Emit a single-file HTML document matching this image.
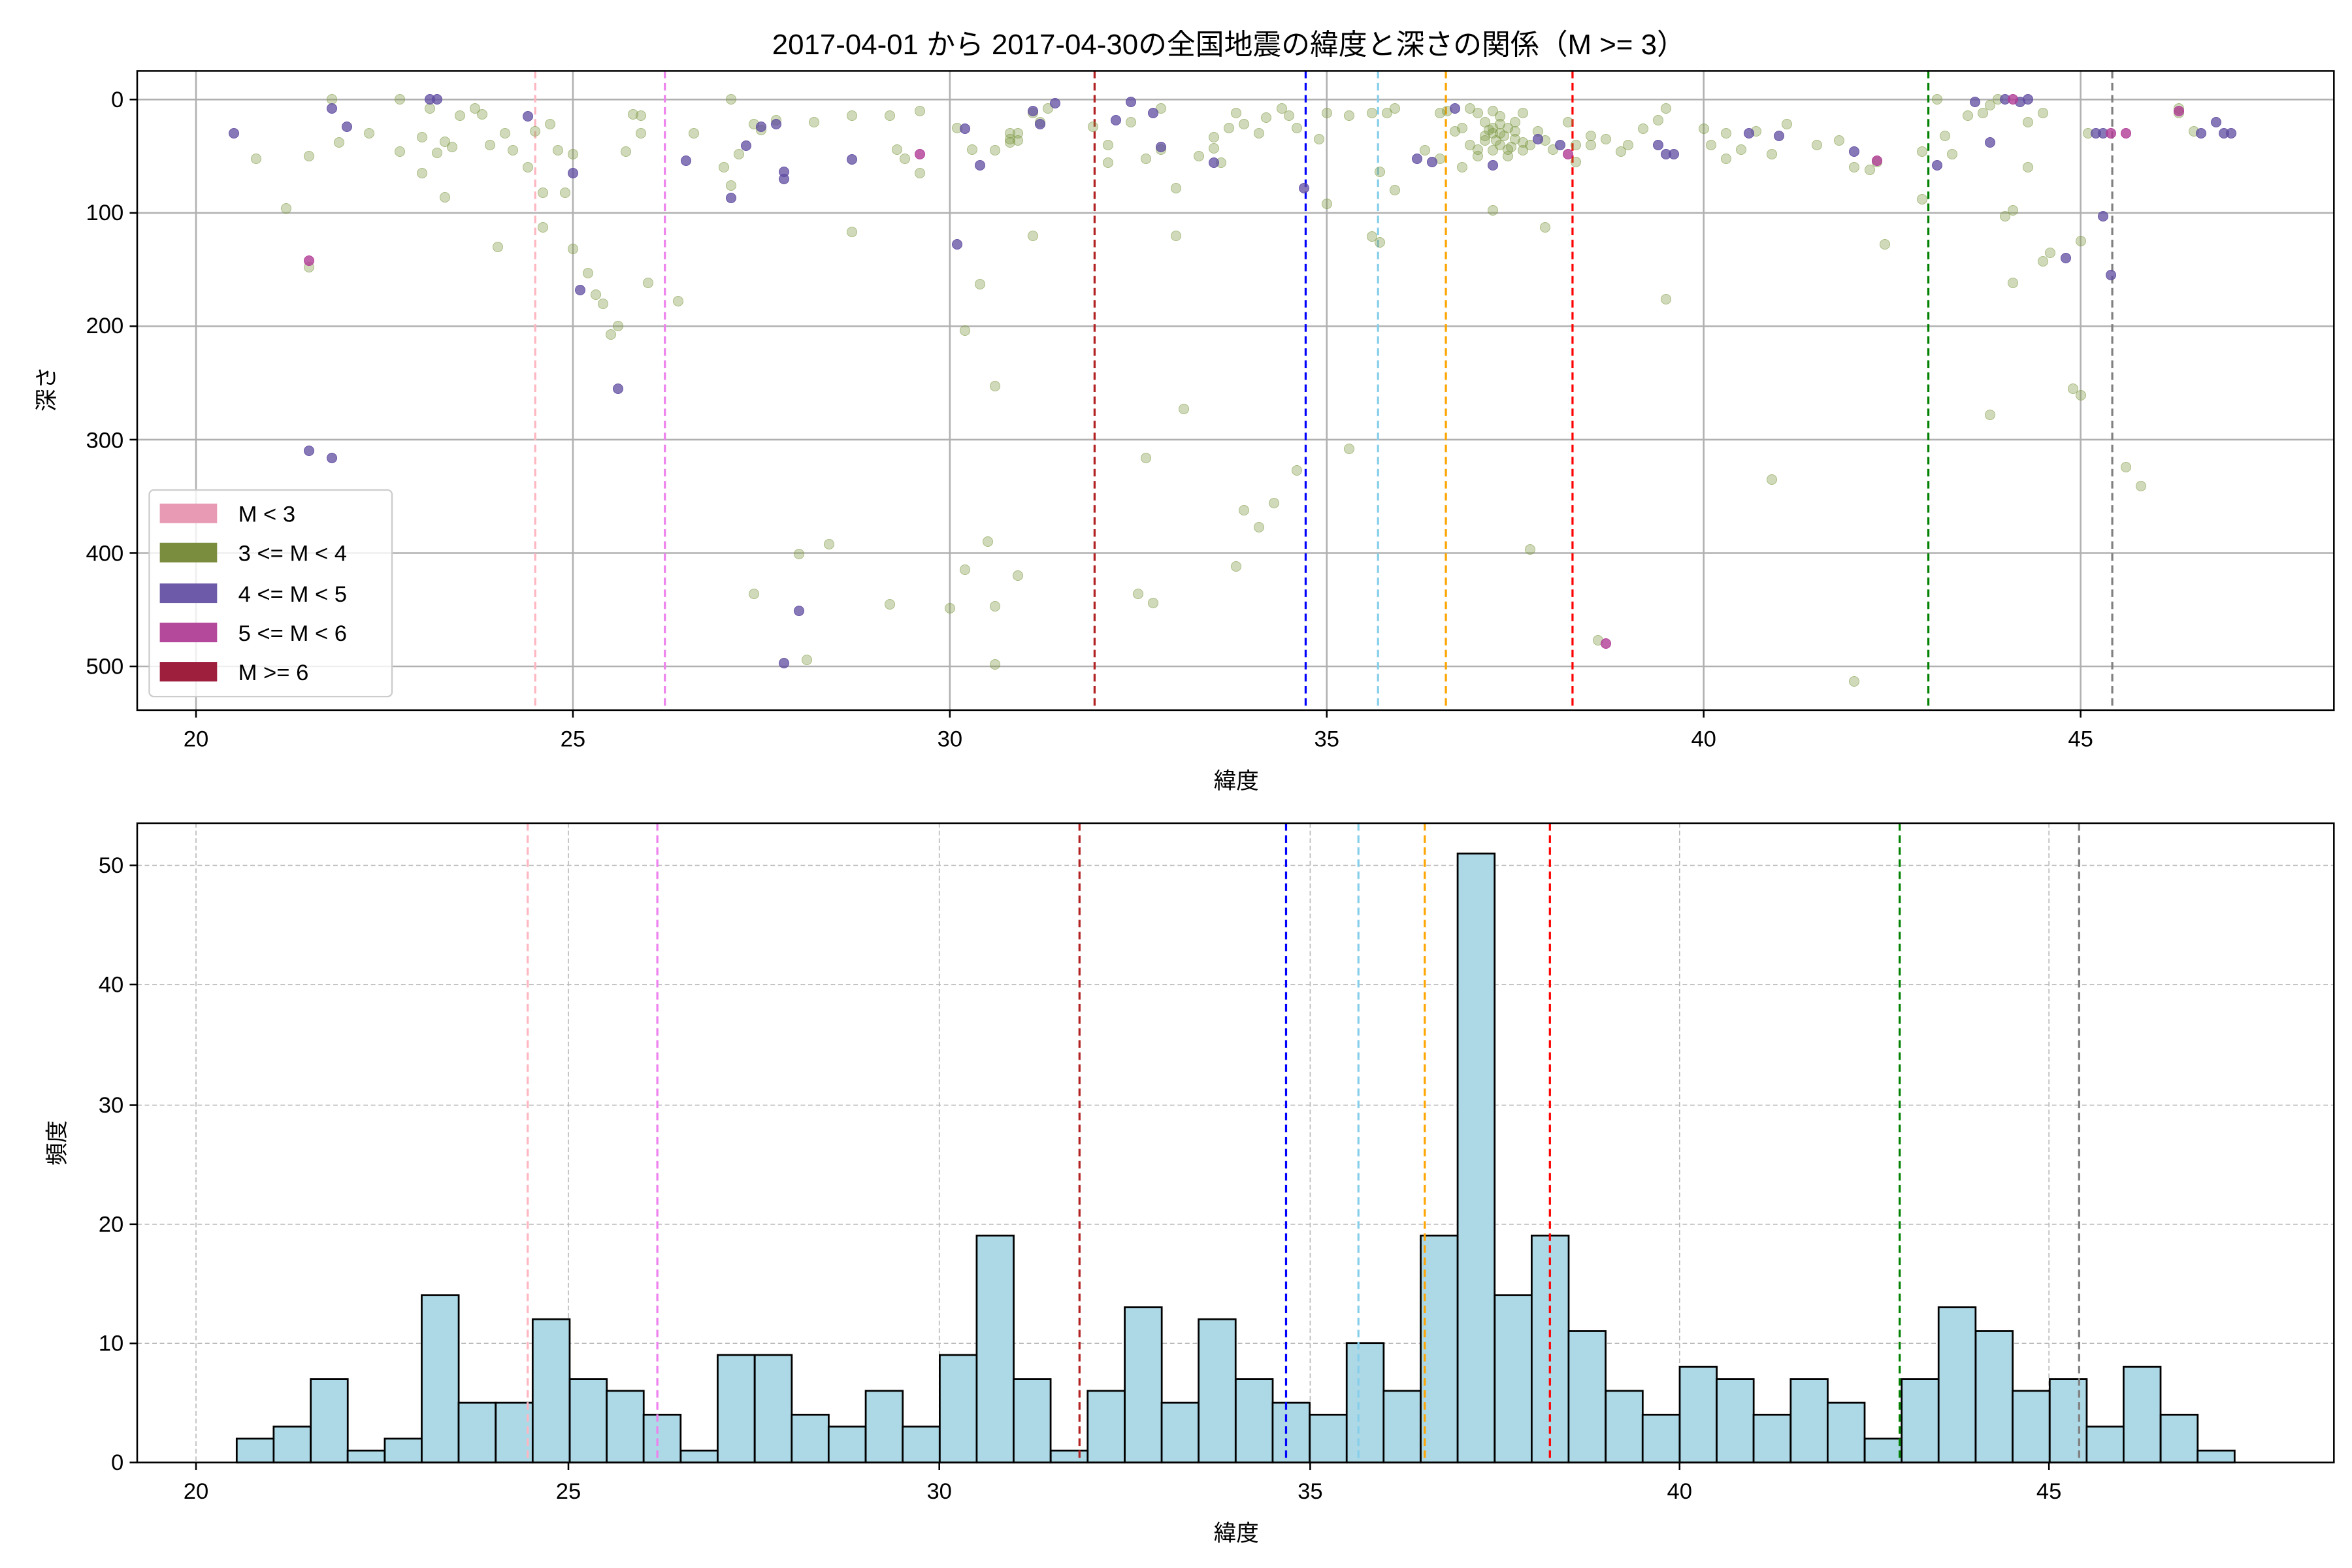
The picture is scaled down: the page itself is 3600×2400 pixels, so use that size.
<!DOCTYPE html>
<html><head><meta charset="utf-8"><style>
html,body{margin:0;padding:0;background:#fff}
#w{position:relative;width:3600px;height:2400px;overflow:hidden}
svg{display:block;position:absolute;left:0;top:0}
text{font-family:"Liberation Sans","Noto Sans CJK JP",sans-serif;fill:#000}
#d{position:absolute;left:0;top:0;width:3600px;height:2400px}
#d i{position:absolute;display:block;width:14px;height:14px;border-radius:50%;margin:-8px 0 0 -8px;left:calc(300px + var(--x)*115.385px);top:calc(152.3px + var(--y)*1.7354px)}
.o i{background:rgba(120,150,60,0.35);border:1.5px solid rgba(120,150,60,0.45)}
.p i{background:rgba(95,75,160,0.75);border:1.5px solid rgba(95,75,160,0.8)}
.m i{background:rgba(176,60,150,0.8);border:1.5px solid rgba(176,60,150,0.85)}
</style></head><body><div id="w">
<svg width="3600" height="2400" viewBox="0 0 1560 1040" xmlns="http://www.w3.org/2000/svg">
<rect width="1560" height="1040" fill="#fff"/>
<text x="815" y="36" font-size="19" text-anchor="middle">2017-04-01 から 2017-04-30の全国地震の緯度と深さの関係（M &gt;= 3）</text>
<g stroke="#b0b0b0" stroke-width="1.1">
<line x1="130" y1="47" x2="130" y2="471"/><line x1="380" y1="47" x2="380" y2="471"/><line x1="630" y1="47" x2="630" y2="471"/><line x1="880" y1="47" x2="880" y2="471"/><line x1="1130" y1="47" x2="1130" y2="471"/><line x1="1380" y1="47" x2="1380" y2="471"/>
<line x1="91" y1="66" x2="1548" y2="66"/><line x1="91" y1="141.2" x2="1548" y2="141.2"/><line x1="91" y1="216.4" x2="1548" y2="216.4"/><line x1="91" y1="291.6" x2="1548" y2="291.6"/><line x1="91" y1="366.8" x2="1548" y2="366.8"/><line x1="91" y1="442" x2="1548" y2="442"/>
</g>
<g stroke-width="1.4" stroke-dasharray="5,3" fill="none">
<line x1="355" y1="47" x2="355" y2="471" stroke="#ffb6c1"/>
<line x1="441" y1="47" x2="441" y2="471" stroke="#ee82ee"/>
<line x1="726" y1="47" x2="726" y2="471" stroke="#b22222"/>
<line x1="866" y1="47" x2="866" y2="471" stroke="#0000ff"/>
<line x1="914" y1="47" x2="914" y2="471" stroke="#87ceeb"/>
<line x1="959" y1="47" x2="959" y2="471" stroke="#ffa500"/>
<line x1="1043" y1="47" x2="1043" y2="471" stroke="#ff0000"/>
<line x1="1279" y1="47" x2="1279" y2="471" stroke="#008000"/>
<line x1="1401" y1="47" x2="1401" y2="471" stroke="#808080"/>
</g>
<g stroke="#b8b8b8" stroke-width="0.7" stroke-dasharray="3,2">
<line x1="130" y1="546" x2="130" y2="970"/><line x1="377" y1="546" x2="377" y2="970"/><line x1="623" y1="546" x2="623" y2="970"/><line x1="869" y1="546" x2="869" y2="970"/><line x1="1114" y1="546" x2="1114" y2="970"/><line x1="1359" y1="546" x2="1359" y2="970"/>
<line x1="91" y1="891" x2="1548" y2="891"/><line x1="91" y1="812" x2="1548" y2="812"/><line x1="91" y1="733" x2="1548" y2="733"/><line x1="91" y1="653" x2="1548" y2="653"/><line x1="91" y1="574" x2="1548" y2="574"/>
</g>
<g fill="#add8e6" stroke="#000" stroke-width="1.2">
<rect x="157" y="954.2" width="24.54" height="15.8"/>
<rect x="181.5" y="946.2" width="24.54" height="23.8"/>
<rect x="206.1" y="914.6" width="24.54" height="55.4"/>
<rect x="230.6" y="962.1" width="24.54" height="7.9"/>
<rect x="255.2" y="954.2" width="24.54" height="15.8"/>
<rect x="279.7" y="859.1" width="24.54" height="110.9"/>
<rect x="304.2" y="930.4" width="24.54" height="39.6"/>
<rect x="328.8" y="930.4" width="24.54" height="39.6"/>
<rect x="353.3" y="875" width="24.54" height="95"/>
<rect x="377.9" y="914.6" width="24.54" height="55.4"/>
<rect x="402.4" y="922.5" width="24.54" height="47.5"/>
<rect x="426.9" y="938.3" width="24.54" height="31.7"/>
<rect x="451.5" y="962.1" width="24.54" height="7.9"/>
<rect x="476" y="898.7" width="24.54" height="71.3"/>
<rect x="500.6" y="898.7" width="24.54" height="71.3"/>
<rect x="525.1" y="938.3" width="24.54" height="31.7"/>
<rect x="549.6" y="946.2" width="24.54" height="23.8"/>
<rect x="574.2" y="922.5" width="24.54" height="47.5"/>
<rect x="598.7" y="946.2" width="24.54" height="23.8"/>
<rect x="623.3" y="898.7" width="24.54" height="71.3"/>
<rect x="647.8" y="819.5" width="24.54" height="150.5"/>
<rect x="672.3" y="914.6" width="24.54" height="55.4"/>
<rect x="696.9" y="962.1" width="24.54" height="7.9"/>
<rect x="721.4" y="922.5" width="24.54" height="47.5"/>
<rect x="746" y="867" width="24.54" height="103"/>
<rect x="770.5" y="930.4" width="24.54" height="39.6"/>
<rect x="795" y="875" width="24.54" height="95"/>
<rect x="819.6" y="914.6" width="24.54" height="55.4"/>
<rect x="844.1" y="930.4" width="24.54" height="39.6"/>
<rect x="868.7" y="938.3" width="24.54" height="31.7"/>
<rect x="893.2" y="890.8" width="24.54" height="79.2"/>
<rect x="917.7" y="922.5" width="24.54" height="47.5"/>
<rect x="942.3" y="819.5" width="24.54" height="150.5"/>
<rect x="966.8" y="566.1" width="24.54" height="403.9"/>
<rect x="991.4" y="859.1" width="24.54" height="110.9"/>
<rect x="1015.9" y="819.5" width="24.54" height="150.5"/>
<rect x="1040.4" y="882.9" width="24.54" height="87.1"/>
<rect x="1065" y="922.5" width="24.54" height="47.5"/>
<rect x="1089.5" y="938.3" width="24.54" height="31.7"/>
<rect x="1114.1" y="906.6" width="24.54" height="63.4"/>
<rect x="1138.6" y="914.6" width="24.54" height="55.4"/>
<rect x="1163.1" y="938.3" width="24.54" height="31.7"/>
<rect x="1187.7" y="914.6" width="24.54" height="55.4"/>
<rect x="1212.2" y="930.4" width="24.54" height="39.6"/>
<rect x="1236.8" y="954.2" width="24.54" height="15.8"/>
<rect x="1261.3" y="914.6" width="24.54" height="55.4"/>
<rect x="1285.8" y="867" width="24.54" height="103"/>
<rect x="1310.4" y="882.9" width="24.54" height="87.1"/>
<rect x="1334.9" y="922.5" width="24.54" height="47.5"/>
<rect x="1359.5" y="914.6" width="24.54" height="55.4"/>
<rect x="1384" y="946.2" width="24.54" height="23.8"/>
<rect x="1408.5" y="906.6" width="24.54" height="63.4"/>
<rect x="1433.1" y="938.3" width="24.54" height="31.7"/>
<rect x="1457.6" y="962.1" width="24.54" height="7.9"/>
</g>
<g stroke-width="1.4" stroke-dasharray="5,3" fill="none">
<line x1="350" y1="546" x2="350" y2="970" stroke="#ffb6c1"/>
<line x1="436" y1="546" x2="436" y2="970" stroke="#ee82ee"/>
<line x1="716" y1="546" x2="716" y2="970" stroke="#b22222"/>
<line x1="853" y1="546" x2="853" y2="970" stroke="#0000ff"/>
<line x1="901" y1="546" x2="901" y2="970" stroke="#87ceeb"/>
<line x1="945" y1="546" x2="945" y2="970" stroke="#ffa500"/>
<line x1="1028" y1="546" x2="1028" y2="970" stroke="#ff0000"/>
<line x1="1260" y1="546" x2="1260" y2="970" stroke="#008000"/>
<line x1="1379" y1="546" x2="1379" y2="970" stroke="#808080"/>
</g>
<rect x="91" y="546" width="1457" height="424" fill="none" stroke="#000" stroke-width="1.1"/>
<g stroke="#000" stroke-width="1.1">
<line x1="130" y1="970" x2="130" y2="975"/><line x1="377" y1="970" x2="377" y2="975"/><line x1="623" y1="970" x2="623" y2="975"/><line x1="869" y1="970" x2="869" y2="975"/><line x1="1114" y1="970" x2="1114" y2="975"/><line x1="1359" y1="970" x2="1359" y2="975"/>
<line x1="86" y1="970" x2="91" y2="970"/><line x1="86" y1="891" x2="91" y2="891"/><line x1="86" y1="812" x2="91" y2="812"/><line x1="86" y1="733" x2="91" y2="733"/><line x1="86" y1="653" x2="91" y2="653"/><line x1="86" y1="574" x2="91" y2="574"/>
</g>
<g font-size="15" text-anchor="middle">
<text x="130" y="994">20</text><text x="377" y="994">25</text><text x="623" y="994">30</text><text x="869" y="994">35</text><text x="1114" y="994">40</text><text x="1359" y="994">45</text>
</g>
<g font-size="15" text-anchor="end">
<text x="82" y="975">0</text><text x="82" y="896">10</text><text x="82" y="817">20</text><text x="82" y="738">30</text><text x="82" y="658">40</text><text x="82" y="579">50</text>
</g>
<text x="820" y="1022" font-size="15" text-anchor="middle">緯度</text>
<text transform="translate(43,758) rotate(-90)" font-size="15" text-anchor="middle">頻度</text>
</svg>
<div id="d">
<div class="o">
<i style="--x:1.5;--y:148"></i><i style="--x:4;--y:130"></i><i style="--x:4.6;--y:113"></i><i style="--x:5;--y:132"></i><i style="--x:5.2;--y:153"></i><i style="--x:5.3;--y:172"></i><i style="--x:5.4;--y:180"></i><i style="--x:5.6;--y:200"></i><i style="--x:5.5;--y:207"></i><i style="--x:6;--y:162"></i><i style="--x:6.4;--y:178"></i><i style="--x:7.4;--y:436"></i><i style="--x:8;--y:401"></i><i style="--x:8.1;--y:494"></i><i style="--x:8.4;--y:392"></i><i style="--x:9.2;--y:445"></i><i style="--x:10;--y:449"></i><i style="--x:10.2;--y:415"></i><i style="--x:10.5;--y:390"></i><i style="--x:10.6;--y:447"></i><i style="--x:10.9;--y:420"></i><i style="--x:10.6;--y:498"></i><i style="--x:10.2;--y:204"></i><i style="--x:10.4;--y:163"></i><i style="--x:10.6;--y:253"></i><i style="--x:8.7;--y:117"></i><i style="--x:11.1;--y:120"></i><i style="--x:12.6;--y:316"></i><i style="--x:12.5;--y:436"></i><i style="--x:12.7;--y:444"></i><i style="--x:13.1;--y:273"></i><i style="--x:13;--y:120"></i><i style="--x:13.8;--y:412"></i><i style="--x:13.9;--y:362"></i><i style="--x:14.1;--y:377"></i><i style="--x:14.3;--y:356"></i><i style="--x:14.6;--y:327"></i><i style="--x:15;--y:92"></i><i style="--x:15.3;--y:308"></i><i style="--x:15.6;--y:121"></i><i style="--x:15.7;--y:126"></i><i style="--x:17.2;--y:98"></i><i style="--x:17.7;--y:397"></i><i style="--x:17.9;--y:113"></i><i style="--x:18.6;--y:477"></i><i style="--x:19.5;--y:176"></i><i style="--x:20.9;--y:335"></i><i style="--x:22;--y:513"></i><i style="--x:22.4;--y:128"></i><i style="--x:22.9;--y:88"></i><i style="--x:23.8;--y:278"></i><i style="--x:24.1;--y:162"></i><i style="--x:24;--y:103"></i><i style="--x:24.1;--y:98"></i><i style="--x:24.3;--y:60"></i><i style="--x:24.5;--y:143"></i><i style="--x:24.6;--y:135"></i><i style="--x:24.9;--y:255"></i><i style="--x:25;--y:261"></i><i style="--x:25.6;--y:324"></i><i style="--x:25.8;--y:341"></i><i style="--x:25;--y:125"></i>
<i style="--x:0.8;--y:52"></i><i style="--x:1.2;--y:96"></i><i style="--x:1.5;--y:50"></i><i style="--x:1.8;--y:0"></i><i style="--x:1.9;--y:38"></i><i style="--x:2.3;--y:30"></i><i style="--x:2.7;--y:46"></i><i style="--x:2.7;--y:0"></i><i style="--x:3;--y:65"></i><i style="--x:3;--y:33"></i><i style="--x:3.1;--y:8"></i><i style="--x:3.2;--y:47"></i><i style="--x:3.3;--y:37"></i><i style="--x:3.3;--y:86"></i><i style="--x:3.4;--y:42"></i><i style="--x:3.5;--y:14"></i><i style="--x:3.7;--y:8"></i><i style="--x:3.8;--y:13"></i><i style="--x:3.9;--y:40"></i><i style="--x:4.1;--y:30"></i><i style="--x:4.2;--y:45"></i><i style="--x:4.4;--y:60"></i><i style="--x:4.5;--y:28"></i><i style="--x:4.6;--y:82"></i><i style="--x:4.7;--y:22"></i><i style="--x:4.8;--y:45"></i><i style="--x:4.9;--y:82"></i><i style="--x:5;--y:48"></i><i style="--x:5.7;--y:46"></i><i style="--x:5.8;--y:13"></i><i style="--x:5.9;--y:14"></i><i style="--x:5.9;--y:30"></i><i style="--x:6.6;--y:30"></i><i style="--x:7;--y:60"></i><i style="--x:7.1;--y:76"></i><i style="--x:7.1;--y:0"></i><i style="--x:7.2;--y:48"></i><i style="--x:7.4;--y:22"></i><i style="--x:7.5;--y:27"></i><i style="--x:7.7;--y:18"></i><i style="--x:8.2;--y:20"></i><i style="--x:8.7;--y:14"></i><i style="--x:9.2;--y:14"></i><i style="--x:9.3;--y:44"></i><i style="--x:9.4;--y:52"></i><i style="--x:9.6;--y:65"></i><i style="--x:9.6;--y:10"></i><i style="--x:10.1;--y:25"></i><i style="--x:10.3;--y:44"></i><i style="--x:10.6;--y:45"></i><i style="--x:10.8;--y:38"></i><i style="--x:10.9;--y:30"></i><i style="--x:10.9;--y:36"></i><i style="--x:11.1;--y:12"></i><i style="--x:11.2;--y:20"></i><i style="--x:11.3;--y:8"></i><i style="--x:11.9;--y:24"></i><i style="--x:12.1;--y:40"></i><i style="--x:12.1;--y:56"></i><i style="--x:12.4;--y:20"></i><i style="--x:12.6;--y:52"></i><i style="--x:12.8;--y:44"></i><i style="--x:12.8;--y:8"></i><i style="--x:13;--y:78"></i><i style="--x:13.3;--y:50"></i><i style="--x:13.5;--y:43"></i><i style="--x:13.5;--y:33"></i><i style="--x:13.6;--y:56"></i><i style="--x:13.7;--y:25"></i><i style="--x:13.8;--y:12"></i><i style="--x:13.9;--y:22"></i><i style="--x:14.1;--y:30"></i><i style="--x:14.2;--y:16"></i><i style="--x:14.4;--y:8"></i><i style="--x:14.6;--y:25"></i><i style="--x:14.5;--y:14"></i><i style="--x:14.9;--y:35"></i><i style="--x:15;--y:12"></i><i style="--x:15.3;--y:14"></i><i style="--x:15.6;--y:12"></i><i style="--x:15.7;--y:64"></i><i style="--x:15.8;--y:12"></i><i style="--x:15.9;--y:80"></i><i style="--x:15.9;--y:8"></i><i style="--x:16.3;--y:45"></i><i style="--x:16.5;--y:52"></i><i style="--x:16.5;--y:12"></i><i style="--x:16.7;--y:28"></i><i style="--x:16.8;--y:60"></i><i style="--x:16.9;--y:8"></i><i style="--x:17;--y:12"></i><i style="--x:17;--y:44"></i><i style="--x:17.1;--y:36"></i><i style="--x:17.2;--y:10"></i><i style="--x:17.2;--y:25"></i><i style="--x:17.3;--y:30"></i><i style="--x:17.4;--y:44"></i><i style="--x:17.5;--y:20"></i><i style="--x:17.6;--y:12"></i><i style="--x:17.7;--y:40"></i><i style="--x:17.8;--y:28"></i><i style="--x:17.9;--y:36"></i><i style="--x:18;--y:44"></i><i style="--x:18.2;--y:20"></i><i style="--x:18.3;--y:55"></i><i style="--x:18.5;--y:40"></i><i style="--x:18.7;--y:35"></i><i style="--x:18.9;--y:46"></i><i style="--x:19;--y:40"></i><i style="--x:19.2;--y:26"></i><i style="--x:19.4;--y:18"></i><i style="--x:19.5;--y:8"></i><i style="--x:20;--y:26"></i><i style="--x:20.1;--y:40"></i><i style="--x:20.3;--y:30"></i><i style="--x:20.3;--y:52"></i><i style="--x:20.5;--y:44"></i><i style="--x:20.7;--y:28"></i><i style="--x:20.9;--y:48"></i><i style="--x:21.1;--y:22"></i><i style="--x:21.5;--y:40"></i><i style="--x:21.8;--y:36"></i><i style="--x:22;--y:60"></i><i style="--x:22.2;--y:62"></i><i style="--x:22.3;--y:55"></i><i style="--x:22.9;--y:46"></i><i style="--x:23.1;--y:0"></i><i style="--x:23.2;--y:32"></i><i style="--x:23.3;--y:48"></i><i style="--x:23.5;--y:14"></i><i style="--x:23.7;--y:12"></i><i style="--x:23.8;--y:5"></i><i style="--x:23.9;--y:0"></i><i style="--x:24.3;--y:20"></i><i style="--x:24.5;--y:12"></i><i style="--x:25.1;--y:30"></i><i style="--x:26.3;--y:12"></i><i style="--x:26.5;--y:28"></i>
<i style="--x:17.1;--y:20"></i><i style="--x:17.2;--y:30"></i><i style="--x:17.3;--y:40"></i><i style="--x:17.4;--y:25"></i><i style="--x:17.5;--y:35"></i><i style="--x:17.3;--y:15"></i><i style="--x:17.2;--y:45"></i><i style="--x:17.6;--y:45"></i><i style="--x:17.4;--y:50"></i><i style="--x:17.1;--y:32"></i><i style="--x:16.9;--y:40"></i><i style="--x:17.5;--y:28"></i><i style="--x:17.3;--y:22"></i><i style="--x:17.6;--y:38"></i><i style="--x:17;--y:50"></i><i style="--x:10.8;--y:35"></i><i style="--x:10.8;--y:30"></i><i style="--x:18.3;--y:40"></i><i style="--x:18.5;--y:32"></i><i style="--x:26.3;--y:8"></i><i style="--x:16.8;--y:25"></i><i style="--x:16.6;--y:10"></i><i style="--x:17.35;--y:32"></i><i style="--x:17.45;--y:42"></i><i style="--x:17.25;--y:36"></i><i style="--x:17.15;--y:27"></i>
</div>
<div class="p">
<i style="--x:0.5;--y:30"></i><i style="--x:1.5;--y:310"></i><i style="--x:1.8;--y:316"></i><i style="--x:5.6;--y:255"></i><i style="--x:7.8;--y:497"></i><i style="--x:8;--y:451"></i><i style="--x:10.1;--y:128"></i><i style="--x:14.7;--y:78"></i><i style="--x:24.8;--y:140"></i><i style="--x:25.3;--y:103"></i><i style="--x:25.4;--y:155"></i><i style="--x:1.8;--y:8"></i><i style="--x:2;--y:24"></i><i style="--x:4.4;--y:15"></i><i style="--x:5;--y:65"></i><i style="--x:5.1;--y:168"></i><i style="--x:6.5;--y:54"></i><i style="--x:7.1;--y:87"></i><i style="--x:7.3;--y:41"></i><i style="--x:7.5;--y:24"></i><i style="--x:7.7;--y:22"></i><i style="--x:7.8;--y:64"></i><i style="--x:7.8;--y:70"></i><i style="--x:8.7;--y:53"></i><i style="--x:10.2;--y:26"></i><i style="--x:10.4;--y:58"></i><i style="--x:11.1;--y:10"></i><i style="--x:11.2;--y:22"></i><i style="--x:11.4;--y:3"></i><i style="--x:12.2;--y:18"></i><i style="--x:12.4;--y:2"></i><i style="--x:12.7;--y:12"></i><i style="--x:12.8;--y:42"></i><i style="--x:13.5;--y:56"></i><i style="--x:16.2;--y:52"></i><i style="--x:16.4;--y:55"></i><i style="--x:16.7;--y:8"></i><i style="--x:17.2;--y:58"></i><i style="--x:17.8;--y:35"></i><i style="--x:18.1;--y:40"></i><i style="--x:19.4;--y:40"></i><i style="--x:19.6;--y:48"></i><i style="--x:19.5;--y:48"></i><i style="--x:20.6;--y:30"></i><i style="--x:21;--y:32"></i><i style="--x:22;--y:46"></i><i style="--x:23.1;--y:58"></i><i style="--x:23.6;--y:2"></i><i style="--x:23.8;--y:38"></i><i style="--x:24;--y:0"></i><i style="--x:24.2;--y:2"></i><i style="--x:24.3;--y:0"></i><i style="--x:25.2;--y:30"></i><i style="--x:25.3;--y:30"></i><i style="--x:26.6;--y:30"></i><i style="--x:26.8;--y:20"></i><i style="--x:26.9;--y:30"></i><i style="--x:27;--y:30"></i><i style="--x:3.2;--y:0"></i><i style="--x:3.1;--y:0"></i>
</div>
<div class="m">
<i style="--x:1.5;--y:142"></i><i style="--x:9.6;--y:48"></i><i style="--x:18.7;--y:480"></i><i style="--x:22.3;--y:54"></i><i style="--x:24.1;--y:0"></i><i style="--x:25.6;--y:30"></i><i style="--x:25.4;--y:30"></i><i style="--x:26.3;--y:10"></i><i style="--x:18.2;--y:48"></i>
</div>
</div>
<svg width="3600" height="2400" viewBox="0 0 1560 1040" xmlns="http://www.w3.org/2000/svg">
<rect x="91" y="47" width="1457" height="424" fill="none" stroke="#000" stroke-width="1.1"/>
<g stroke="#000" stroke-width="1.1">
<line x1="130" y1="471" x2="130" y2="476"/><line x1="380" y1="471" x2="380" y2="476"/><line x1="630" y1="471" x2="630" y2="476"/><line x1="880" y1="471" x2="880" y2="476"/><line x1="1130" y1="471" x2="1130" y2="476"/><line x1="1380" y1="471" x2="1380" y2="476"/>
<line x1="86" y1="66" x2="91" y2="66"/><line x1="86" y1="141.2" x2="91" y2="141.2"/><line x1="86" y1="216.4" x2="91" y2="216.4"/><line x1="86" y1="291.6" x2="91" y2="291.6"/><line x1="86" y1="366.8" x2="91" y2="366.8"/><line x1="86" y1="442" x2="91" y2="442"/>
</g>
<g font-size="15" text-anchor="middle">
<text x="130" y="495">20</text><text x="380" y="495">25</text><text x="630" y="495">30</text><text x="880" y="495">35</text><text x="1130" y="495">40</text><text x="1380" y="495">45</text>
</g>
<g font-size="15" text-anchor="end">
<text x="82" y="71">0</text><text x="82" y="146">100</text><text x="82" y="221">200</text><text x="82" y="297">300</text><text x="82" y="372">400</text><text x="82" y="447">500</text>
</g>
<text x="820" y="523" font-size="15" text-anchor="middle">緯度</text>
<text transform="translate(36,258) rotate(-90)" font-size="15" text-anchor="middle">深さ</text>
<rect x="99" y="325" width="161" height="137" rx="3" fill="#fff" fill-opacity="0.8" stroke="#ccc"/>
<rect x="106" y="334" width="38" height="13" fill="#e89ab5"/>
<rect x="106" y="360" width="38" height="13" fill="#7a8c3e"/>
<rect x="106" y="387" width="38" height="13" fill="#6d5aa8"/>
<rect x="106" y="413" width="38" height="13" fill="#b4489b"/>
<rect x="106" y="439" width="38" height="13" fill="#9e1e3e"/>
<g font-size="15"><text x="158" y="346">M &lt; 3</text><text x="158" y="372">3 &lt;= M &lt; 4</text><text x="158" y="399">4 &lt;= M &lt; 5</text><text x="158" y="425">5 &lt;= M &lt; 6</text><text x="158" y="451">M &gt;= 6</text></g>
</svg>
</div></body></html>
